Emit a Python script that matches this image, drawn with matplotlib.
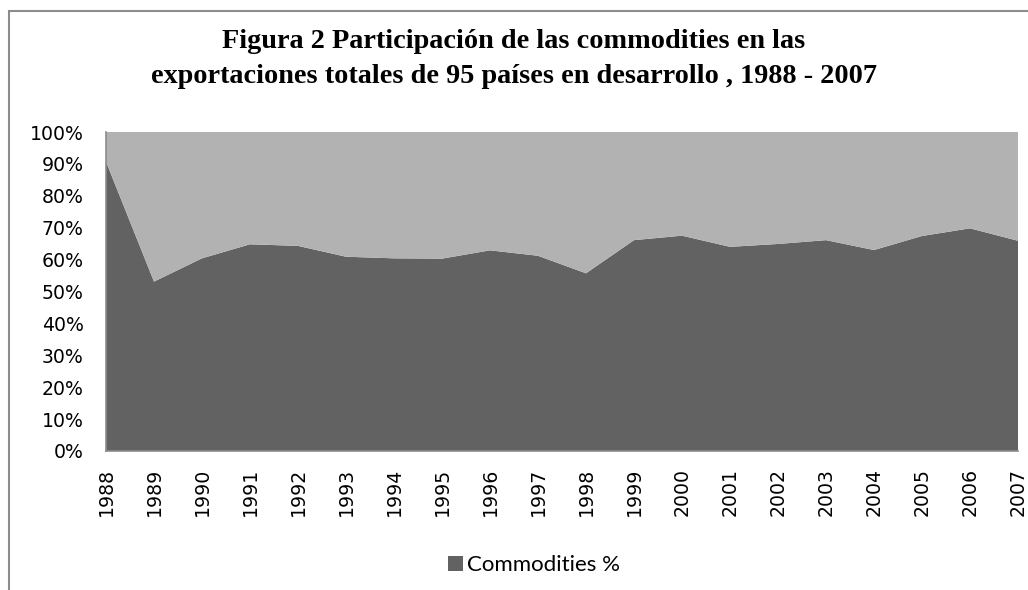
import matplotlib
matplotlib.use("Agg")
import matplotlib.pyplot as plt
from matplotlib.patches import Rectangle, Patch
from matplotlib.ticker import PercentFormatter

years = [1988, 1989, 1990, 1991, 1992, 1993, 1994, 1995, 1996, 1997,
         1998, 1999, 2000, 2001, 2002, 2003, 2004, 2005, 2006, 2007]
commodities = [90.7, 53.1, 60.4, 64.8, 64.3, 60.9, 60.4, 60.3, 62.9, 61.2,
               55.7, 66.1, 67.5, 64.0, 64.9, 66.1, 63.0, 67.4, 69.8, 65.9]
others = [100 - c for c in commodities]
series_label = "Commodities %"
title = ("Figura 2 Participación de las commodities en las\n"
         "exportaciones totales de 95 países en desarrollo , 1988 - 2007")

W, H = 1028, 590
fig = plt.figure(figsize=(W / 100, H / 100), dpi=100)
fig.patch.set_facecolor("white")

# outer chart frame (cropped on right/bottom)
fig.add_artist(Rectangle((8.5 / W, -0.1), 1.2, 1.1 - 11 / H, transform=fig.transFigure,
                         fill=False, edgecolor="#8c8c8c", linewidth=1.5))

ax = fig.add_axes([106 / W, 1 - 451 / H, (1018 - 106) / W, (451 - 132) / H])
x = list(range(len(years)))
ax.stackplot(x, commodities, others, colors=["#626262", "#b2b2b2"], linewidth=0)
ax.set_xlim(0, len(years) - 1)
ax.set_ylim(0, 100)
ax.set_yticks(range(0, 101, 10))
ax.yaxis.set_major_formatter(PercentFormatter(decimals=0))
ax.set_xticks(x)
ax.set_xticklabels([str(y) for y in years], rotation=90)
ax.tick_params(axis="both", length=0, labelsize=13.6, colors="black")
ax.tick_params(axis="y", pad=16)
ax.tick_params(axis="x", pad=12)
for s in ["top", "right"]:
    ax.spines[s].set_visible(False)
for s in ["left", "bottom"]:
    ax.spines[s].set_color("#8c8c8c")
    ax.spines[s].set_linewidth(1.2)

fig.text(0.5, 1 - 59 / H, title, ha="center", va="center", fontsize=20.3,
         fontweight="bold", family="Liberation Serif", linespacing=1.5)

leg = fig.legend(handles=[Patch(facecolor="#626262", label=series_label)],
                 loc="center", bbox_to_anchor=(534 / W, 1 - 565 / H), frameon=False,
                 handlelength=0.65, handleheight=0.65, handletextpad=0.2,
                 prop={"family": "Lato", "size": 16})

fig.savefig("out.png", dpi=100)
